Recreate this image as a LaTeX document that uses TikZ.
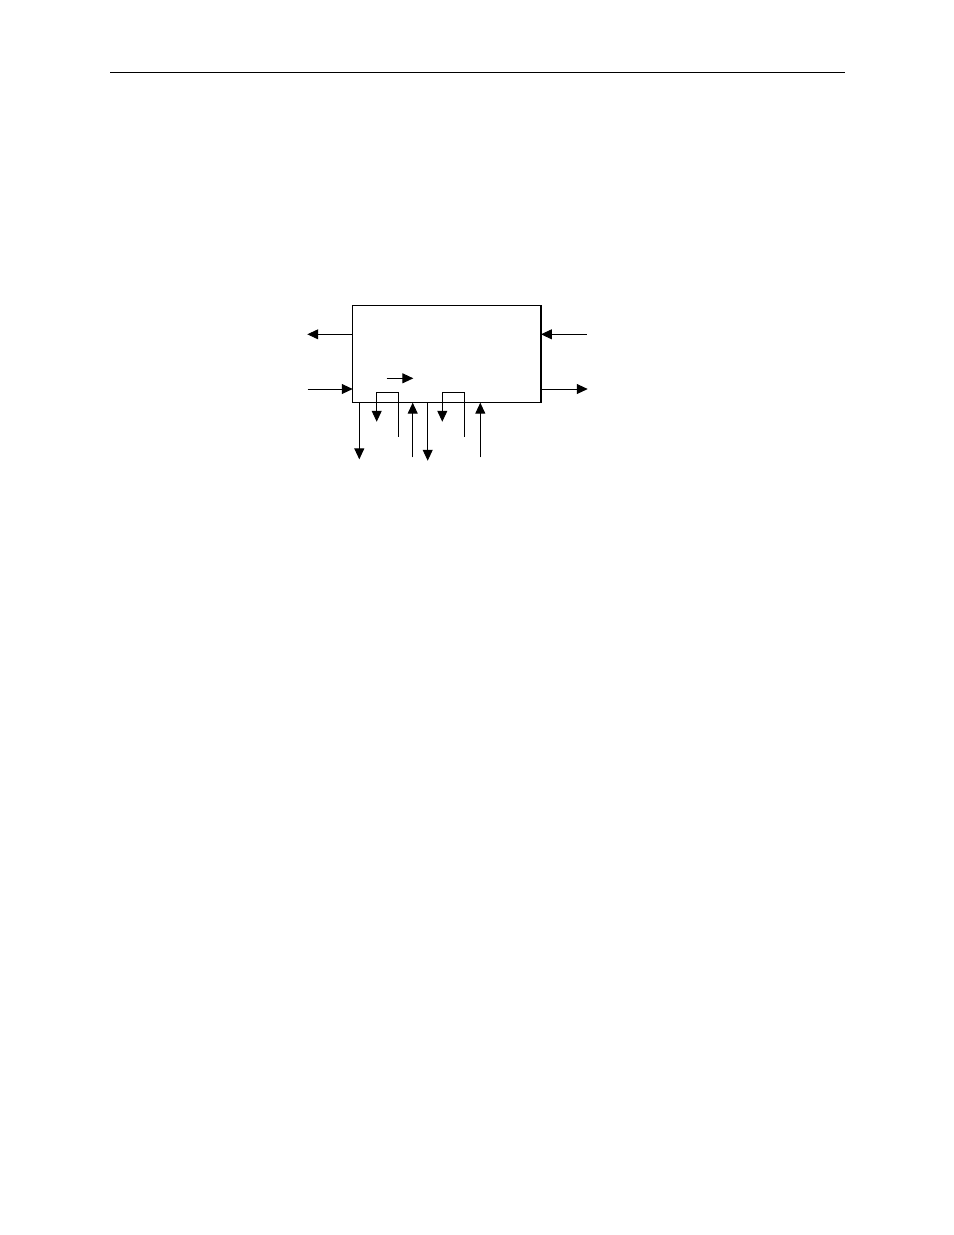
\documentclass[tikz,border=0pt]{standalone}
\usetikzlibrary{arrows.meta}
\begin{document}
\begin{tikzpicture}[x=0.6415pt,y=-0.6415pt,
  sig/.style={line width=0.55pt,-{Triangle[length=7pt,width=6.4pt]}},
  frame/.style={draw,line width=0.9pt,minimum width=120.8pt,minimum height=62.5pt,inner sep=0pt,outer sep=0pt}]
\useasboundingbox (0,0) rectangle (954,1235);
\coordinate (ruleL) at (110,72.3);
\coordinate (ruleR) at (845,72.3);
\draw[line width=0.7pt] (ruleL) -- (ruleR);
\node[frame] (box) at (446.85,354) {};
% left side
\coordinate (l1) at (307.3,334.3);
\draw[sig] (box.west |- l1) -- (l1);
\coordinate (l2) at (307.7,389);
\draw[sig] (l2) -- (l2 -| box.west);
% right side
\coordinate (r1) at (586.7,334.3);
\draw[sig] (r1) -- (r1 -| box.east);
\coordinate (r2) at (587.7,389);
\draw[sig] (box.east |- r2) -- (r2);
% inner arrow
\coordinate (i1) at (386.7,378.3);
\coordinate (i2) at (413.3,378.3);
\draw[sig] (i1) -- (i2);
% bottom arrows
\coordinate (d1) at (359.3,459.3);
\draw[sig] (d1 |- box.south) -- (d1);
\coordinate (u1) at (412.7,457.3);
\draw[sig] (u1) -- (u1 |- box.south);
\coordinate (d2) at (427.7,460.7);
\draw[sig] (d2 |- box.south) -- (d2);
\coordinate (u2) at (480.3,457.3);
\draw[sig] (u2) -- (u2 |- box.south);
% brackets
\coordinate (b1s) at (398.3,436.7);
\coordinate (b1e) at (376.7,421.7);
\draw[sig] (b1s) -- (398.3,392.3) -- (376.7,392.3) -- (b1e);
\coordinate (b2s) at (464.3,436.7);
\coordinate (b2e) at (442.3,421.7);
\draw[sig] (b2s) -- (464.3,392.3) -- (442.3,392.3) -- (b2e);
\end{tikzpicture}
\end{document}
